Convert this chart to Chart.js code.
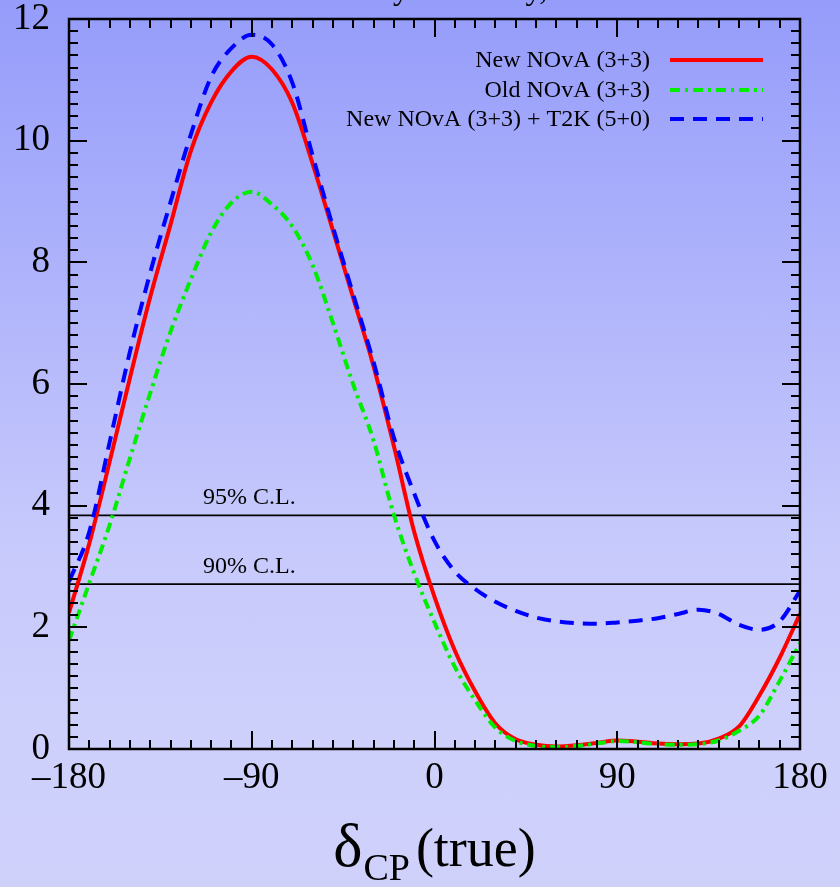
<!DOCTYPE html>
<html><head><meta charset="utf-8">
<script src="https://cdn.jsdelivr.net/npm/chart.js@4"></script>
<style>
html,body{margin:0;padding:0;}
body{width:840px;height:887px;overflow:hidden;background:linear-gradient(to bottom,#959cfa 0%,#b2b6fb 35%,#c6c9fb 60%,#cdd0fb 80%,#cfd1fb 100%);}
#wrap{width:840px;height:887px;position:relative;}
</style></head><body>
<div id="wrap"><canvas id="c" width="840" height="887"></canvas></div>
<script>
const deltaCP = [-180,-170,-160,-150,-140,-130,-120,-110,-100,-90,-80,-70,-60,-50,-40,-30,-20,-10,0,10,20,30,40,50,60,70,80,90,100,110,120,130,140,150,160,170,180];
const newNova = [2.24,3.38,4.72,6.10,7.43,8.62,9.83,10.63,11.14,11.38,11.17,10.62,9.62,8.52,7.41,6.29,4.98,3.57,2.50,1.62,0.95,0.42,0.16,0.07,0.04,0.06,0.10,0.14,0.12,0.09,0.08,0.09,0.17,0.37,0.88,1.50,2.22];
const oldNova = [1.78,2.73,3.68,4.78,5.85,6.86,7.72,8.49,8.98,9.16,8.95,8.59,7.95,7.00,5.99,5.07,3.85,2.89,2.08,1.35,0.80,0.35,0.13,0.05,0.03,0.05,0.09,0.13,0.11,0.08,0.07,0.08,0.14,0.30,0.55,1.12,1.74];
const novaT2K = [2.75,3.57,5.04,6.53,7.83,8.99,10.10,11.05,11.52,11.74,11.58,10.95,9.75,8.58,7.47,6.36,5.12,4.20,3.42,2.92,2.63,2.42,2.27,2.16,2.10,2.07,2.06,2.08,2.11,2.15,2.22,2.29,2.22,2.04,1.96,2.10,2.60];
const clLevels = [3.84, 2.71];
const clLabels = ['95% C.L.', '90% C.L.'];
const seriesLabels = ['New NOvA (3+3)', 'Old NOvA (3+3)', 'New NOvA (3+3) + T2K (5+0)'];
const xTicks = [-180, -90, 0, 90, 180];
const yTicks = [0, 2, 4, 6, 8, 10, 12];
const titleText = 'Mass hierarchy discovery, NH true';
const xTitleMain = 'δ', xTitleSub = 'CP', xTitleRest = '(true)';

const SERIF = "'Liberation Serif','Times New Roman',serif";
const pts = ys => deltaCP.map((x, i) => ({x, y: ys[i]}));
const clPts = v => [{x: deltaCP[0], y: v}, {x: deltaCP[deltaCP.length-1], y: v}];

const styles = [
  {color: '#ff0000', dash: []},
  {color: '#00ee00', dash: [10, 5, 3, 5]},
  {color: '#0000ff', dash: [14, 9]}
];

const datasets = [
  {label: seriesLabels[0], data: pts(newNova), borderColor: styles[0].color, borderDash: styles[0].dash, borderWidth: 4, order: 3},
  {label: seriesLabels[1], data: pts(oldNova), borderColor: styles[1].color, borderDash: styles[1].dash, borderWidth: 4, order: 2},
  {label: seriesLabels[2], data: pts(novaT2K), borderColor: styles[2].color, borderDash: styles[2].dash, borderWidth: 4, order: 1},
  {label: clLabels[0], data: clPts(clLevels[0]), borderColor: '#000', borderWidth: 1.6, order: 5},
  {label: clLabels[1], data: clPts(clLevels[1]), borderColor: '#000', borderWidth: 1.6, order: 5}
];
datasets.forEach(d => { d.pointRadius = 0; d.fill = false; d.cubicInterpolationMode = 'monotone'; });

const decor = {
  id: 'decor',
  afterDatasetsDraw(chart) {
    const {ctx, chartArea: a, scales: {x, y}} = chart;
    ctx.save();
    ctx.fillStyle = '#000';
    ctx.font = '24px ' + SERIF;
    ctx.textAlign = 'left';
    ctx.textBaseline = 'alphabetic';
    clLevels.forEach((v, i) => {
      ctx.fillText(clLabels[i], x.getPixelForValue(-114), y.getPixelForValue(v) - 11);
    });
    ctx.strokeStyle = '#000';
    ctx.lineWidth = 2;
    ctx.beginPath();
    for (let v = -180; v <= 180; v += 10) {
      const px = Math.round(x.getPixelForValue(v));
      const len = (v % 90 === 0) ? 18 : 9;
      ctx.moveTo(px, a.bottom); ctx.lineTo(px, a.bottom - len);
      ctx.moveTo(px, a.top); ctx.lineTo(px, a.top + len);
    }
    for (let k = 0; k <= 60; k++) {
      const v = k * 0.2;
      const py = Math.round(y.getPixelForValue(v));
      const len = (k % 10 === 0) ? 18 : 9;
      ctx.moveTo(a.left, py); ctx.lineTo(a.left + len, py);
      ctx.moveTo(a.right, py); ctx.lineTo(a.right - len, py);
    }
    ctx.stroke();
    ctx.lineWidth = 2.5;
    ctx.strokeRect(a.left, a.top, a.right - a.left, a.bottom - a.top);
    ctx.font = '24px ' + SERIF;
    ctx.textAlign = 'right';
    ctx.textBaseline = 'middle';
    const rowsY = [61, 91, 120];
    seriesLabels.forEach((lab, i) => {
      ctx.fillStyle = '#000';
      ctx.fillText(lab, 650, rowsY[i]);
      ctx.beginPath();
      ctx.strokeStyle = styles[i].color;
      ctx.lineWidth = 4;
      ctx.setLineDash(styles[i].dash);
      ctx.moveTo(670, rowsY[i] - 1); ctx.lineTo(763, rowsY[i] - 1);
      ctx.stroke();
    });
    ctx.setLineDash([]);
    ctx.fillStyle = '#000';
    ctx.textAlign = 'center';
    ctx.textBaseline = 'alphabetic';
    ctx.font = '32px ' + SERIF;
    ctx.fillText(titleText, 436, -1);
    ctx.textAlign = 'left';
    const fMain = '62px ' + SERIF, fSub = '38px ' + SERIF, fRest = '54px ' + SERIF;
    ctx.font = fMain; const w1 = ctx.measureText(xTitleMain).width;
    ctx.font = fSub; const w2 = ctx.measureText(xTitleSub).width;
    ctx.font = fRest; const w3 = ctx.measureText(xTitleRest).width;
    const gap = 6;
    let sx = 434 - (w1 + w2 + gap + w3) / 2;
    ctx.font = fMain; ctx.fillText(xTitleMain, sx, 866); sx += w1 + 1;
    ctx.font = fSub; ctx.fillText(xTitleSub, sx, 880); sx += w2 + gap;
    ctx.font = fRest; ctx.fillText(xTitleRest, sx, 866);
    ctx.restore();
  }
};

new Chart(document.getElementById('c'), {
  type: 'line',
  data: {datasets},
  options: {
    responsive: false,
    animation: false,
    events: [],
    layout: {padding: {left: 0, right: 40, top: 19, bottom: 0}},
    plugins: {legend: {display: false}, tooltip: {enabled: false}, title: {display: false}},
    scales: {
      x: {
        type: 'linear', min: -180, max: 180,
        afterBuildTicks: s => { s.ticks = xTicks.map(v => ({value: v})); },
        afterFit: s => { s.height = 138; s.paddingLeft = 0; s.paddingRight = 0; s.paddingTop = 0; s.paddingBottom = 0; },
        grid: {display: false, drawTicks: false},
        border: {display: false},
        ticks: {color: '#000', font: {family: SERIF, size: 37}, padding: 7, maxRotation: 0,
                callback: v => String(v).replace('-', '\u2013')}
      },
      y: {
        type: 'linear', min: 0, max: 12,
        afterBuildTicks: s => { s.ticks = yTicks.map(v => ({value: v})); },
        afterFit: s => { s.width = 69; s.paddingTop = 0; s.paddingBottom = 0; s.paddingLeft = 0; s.paddingRight = 0; },
        grid: {display: false, drawTicks: false},
        border: {display: false},
        ticks: {color: '#000', font: {family: SERIF, size: 37}, padding: 19}
      }
    }
  },
  plugins: [decor]
});
</script>
</body></html>
